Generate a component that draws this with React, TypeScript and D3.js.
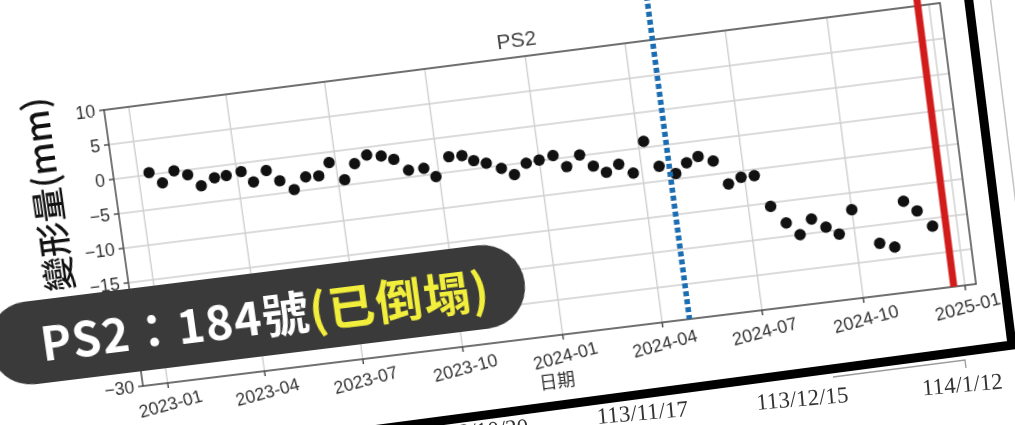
import * as d3 from 'd3'

// deformation series (mm)
const obsDates = [
  '2023-01-11', '2023-01-22', '2023-02-03', '2023-02-15', '2023-02-26', '2023-03-11',
  '2023-03-22', '2023-04-05', '2023-04-15', '2023-04-28', '2023-05-09', '2023-05-21',
  '2023-06-02', '2023-06-14', '2023-06-25', '2023-07-07', '2023-07-18', '2023-07-30',
  '2023-08-12', '2023-08-23', '2023-09-04', '2023-09-18', '2023-09-28', '2023-10-12',
  '2023-10-24', '2023-11-03', '2023-11-14', '2023-11-27', '2023-12-08', '2023-12-20',
  '2024-01-01', '2024-01-14', '2024-01-25', '2024-02-07', '2024-02-18', '2024-02-29',
  '2024-03-12', '2024-03-24', '2024-04-06', '2024-04-17', '2024-05-01', '2024-05-12',
  '2024-05-23', '2024-06-05', '2024-06-16', '2024-06-28', '2024-07-10', '2024-07-21',
  '2024-08-02', '2024-08-13', '2024-08-25', '2024-09-06', '2024-09-17', '2024-10-01',
  '2024-10-22', '2024-11-04', '2024-11-17', '2024-11-28', '2024-12-10',
]
const deformation = [
  0.3, -1.4, 0.1, -0.7, -2.5, -1.6,
  -1.5, -1.2, -2.9, -1.5, -3.2, -4.7,
  -3.1, -3.2, -1.5, -4.2, -2.1, -1.1,
  -1.5, -2.2, -4.0, -4.0, -5.4, -2.8,
  -2.9, -3.8, -4.4, -5.4, -6.5, -5.1,
  -4.9, -4.5, -6.3, -4.9, -6.7, -7.8,
  -6.9, -8.4, -4.1, -7.9, -9.2, -7.9,
  -7.2, -8.1, -11.6, -10.9, -10.9, -15.5,
  -18.1, -20.0, -18.0, -19.4, -20.6, -17.4,
  -22.6, -23.4, -17.1, -18.7, -21.1,
]

const xDomain = ['2022-12-09', '2025-01-11']
const yDomain = [-30, 10]
const xTickDates = [
  '2023-01-01', '2023-04-01', '2023-07-01', '2023-10-01', '2024-01-01',
  '2024-04-01', '2024-07-01', '2024-10-01', '2025-01-01',
]
const xTickLabels = [
  '2023-01', '2023-04', '2023-07', '2023-10', '2024-01',
  '2024-04', '2024-07', '2024-10', '2025-01',
]
const yTicks = [10, 5, 0, -5, -10, -15, -20, -25, -30]
const blueLineDate = '2024-04-26'
const redLineDate = '2024-12-22'
const slideDates = ['113/10/20', '113/11/17', '113/12/15', '114/1/12']

const PW = 840
const PH = 280
const OX = 250
const OY = 250
const SW = 1300
const SH = 700

// where the plot corners land in the photo: TL, TR, BR, BL
const QUAD: [number, number][] = [
  [104, 110],
  [940, 3],
  [976, 284],
  [143, 386],
]

const FONT = '"Liberation Sans", Arial, sans-serif'
const CJK = '"Noto Sans CJK TC", "Noto Sans", sans-serif'

function squareToQuad(q: [number, number][]) {
  const [[x0, y0], [x1, y1], [x2, y2], [x3, y3]] = q
  const dx1 = x1 - x2
  const dy1 = y1 - y2
  const dx2 = x3 - x2
  const dy2 = y3 - y2
  const dx3 = x0 - x1 + x2 - x3
  const dy3 = y0 - y1 + y2 - y3
  const den = dx1 * dy2 - dx2 * dy1
  const g = (dx3 * dy2 - dx2 * dy3) / den
  const h = (dx1 * dy3 - dx3 * dy1) / den
  return {
    a: x1 - x0 + g * x1,
    b: x3 - x0 + h * x3,
    c: x0,
    d: y1 - y0 + g * y1,
    e: y3 - y0 + h * y3,
    f: y0,
    g,
    h,
  }
}

function slideTransform() {
  const { a, b, c, d, e, f, g, h } = squareToQuad(QUAD)
  const m11 = a / PW
  const m12 = b / PH
  const m13 = c - (a * OX) / PW - (b * OY) / PH
  const m21 = d / PW
  const m22 = e / PH
  const m23 = f - (d * OX) / PW - (e * OY) / PH
  const m31 = g / PW
  const m32 = h / PH
  const m33 = 1 - (g * OX) / PW - (h * OY) / PH
  const vals = [m11, m21, 0, m31, m12, m22, 0, m32, 0, 0, 1, 0, m13, m23, 0, m33]
  return `matrix3d(${vals.join(',')})`
}

const parse = d3.utcParse('%Y-%m-%d')

function Chart() {
  const x = d3
    .scaleUtc()
    .domain(xDomain.map((s) => parse(s) as Date))
    .range([0, PW])
  const y = d3.scaleLinear().domain(yDomain).range([PH, 0])

  const points = obsDates.map((s, i) => ({ date: parse(s) as Date, value: deformation[i] }))
  const blueX = x(parse(blueLineDate) as Date)
  const redX = x(parse(redLineDate) as Date)

  return (
    <g transform={`translate(${OX},${OY})`}>
      <rect x={0} y={0} width={PW} height={PH} fill="#fff" />
      {/* grid */}
      {xTickDates.map((s) => {
        const px = x(parse(s) as Date)
        return <line key={s} x1={px} x2={px} y1={0} y2={PH} stroke="#cfcfcf" strokeWidth={1.4} />
      })}
      {yTicks.map((t) => (
        <line key={t} x1={0} x2={PW} y1={y(t)} y2={y(t)} stroke="#cfcfcf" strokeWidth={1.4} />
      ))}
      <rect x={0} y={0} width={PW} height={PH} fill="none" stroke="#555" strokeWidth={1.6} />

      {/* ticks */}
      {yTicks.map((t) => (
        <g key={t} transform={`translate(0,${y(t)})`}>
          <line x1={-5} x2={0} stroke="#444" strokeWidth={1.4} />
          <text x={-9} dy="0.35em" textAnchor="end" fontSize={18} fill="#333" fontFamily={FONT}>
            {t < 0 ? `\u2212${-t}` : t}
          </text>
        </g>
      ))}
      {xTickDates.map((s, i) => {
        const px = x(parse(s) as Date)
        return (
          <g key={s} transform={`translate(${px},${PH})`}>
            <line y1={0} y2={5} stroke="#444" strokeWidth={1.4} />
            <text
              y={21}
              dy="0.35em"
              textAnchor="middle"
              fontSize={18}
              fill="#333"
              fontFamily={FONT}
              transform="rotate(-8 0 21)"
            >
              {xTickLabels[i]}
            </text>
          </g>
        )
      })}

      {/* observations */}
      {points.map((p, i) => (
        <circle key={i} cx={x(p.date)} cy={y(p.value)} r={5.7} fill="#111" />
      ))}

      {/* event markers */}
      <line
        x1={blueX}
        x2={blueX}
        y1={-220}
        y2={PH}
        stroke="#1a6db2"
        strokeWidth={5.5}
        strokeDasharray="5 3"
      />
      <line x1={redX} x2={redX} y1={-220} y2={PH} stroke="#d21c1c" strokeWidth={7} />

      <text x={PW / 2} y={-10} textAnchor="middle" fontSize={21} fill="#444" fontFamily={FONT}>
        PS2
      </text>
      <text x={PW / 2 - 5} y={332} textAnchor="middle" fontSize={18} fill="#333" fontFamily={CJK}>
        日期
      </text>
      <text
        transform="translate(-56,77) rotate(-90)"
        textAnchor="middle"
        fontSize={35}
        fontWeight={500}
        fill="#111"
        fontFamily={CJK}
      >
        變形量(mm)
      </text>

      {/* slide banner */}
      <rect x={-150} y={181} width={546} height={84} rx={42} fill="#3a3a3a" />
      <text
        x={-97}
        y={243}
        fontSize={47}
        fontWeight={700}
        letterSpacing={1.2}
        fontFamily={CJK}
      >
        <tspan fill="#fff">PS2：184號</tspan>
        <tspan fill="#f2ee3c">(已倒塌)</tspan>
      </text>
    </g>
  )
}

export default function App() {
  return (
    <div
      style={{
        position: 'absolute',
        left: 0,
        top: 0,
        width: 1015,
        height: 425,
        overflow: 'hidden',
        background: '#fff',
      }}
    >
      <div
        style={{
          position: 'absolute',
          left: 0,
          top: 0,
          width: SW,
          height: SH,
          transformOrigin: '0 0',
          transform: slideTransform(),
        }}
      >
        <svg width={SW} height={SH} style={{ display: 'block' }}>
          <Chart />
        </svg>
      </div>
      <svg width={1015} height={425} style={{ position: 'absolute', left: 0, top: 0 }}>
        <line x1={990} y1={-5} x2={1016} y2={205} stroke="#c4c4c4" strokeWidth={1.5} />
        <polygon points="1013,345 1015,345 1015,425 360,425" fill="#fff" />
        {slideDates.map((s, i) => {
          const cx = 483 + i * 160
          const cy = i === 0 ? 438 : 420 - (i - 1) * 14
          return (
            <text
              key={s}
              x={cx}
              y={cy}
              textAnchor="middle"
              fontSize={23}
              fill="#333"
              fontFamily='"Liberation Serif", "DejaVu Serif", serif'
              transform={`rotate(-5 ${cx} ${cy})`}
            >
              {s}
            </text>
          )
        })}
        <polyline
          points="968,-6 1012,345 372,430"
          fill="none"
          stroke="#000"
          strokeWidth={9}
          strokeLinejoin="miter"
        />
        <polyline points="833,377 965,360 966,368" fill="none" stroke="#9a9a9a" strokeWidth={1.3} />
      </svg>
    </div>
  )
}
